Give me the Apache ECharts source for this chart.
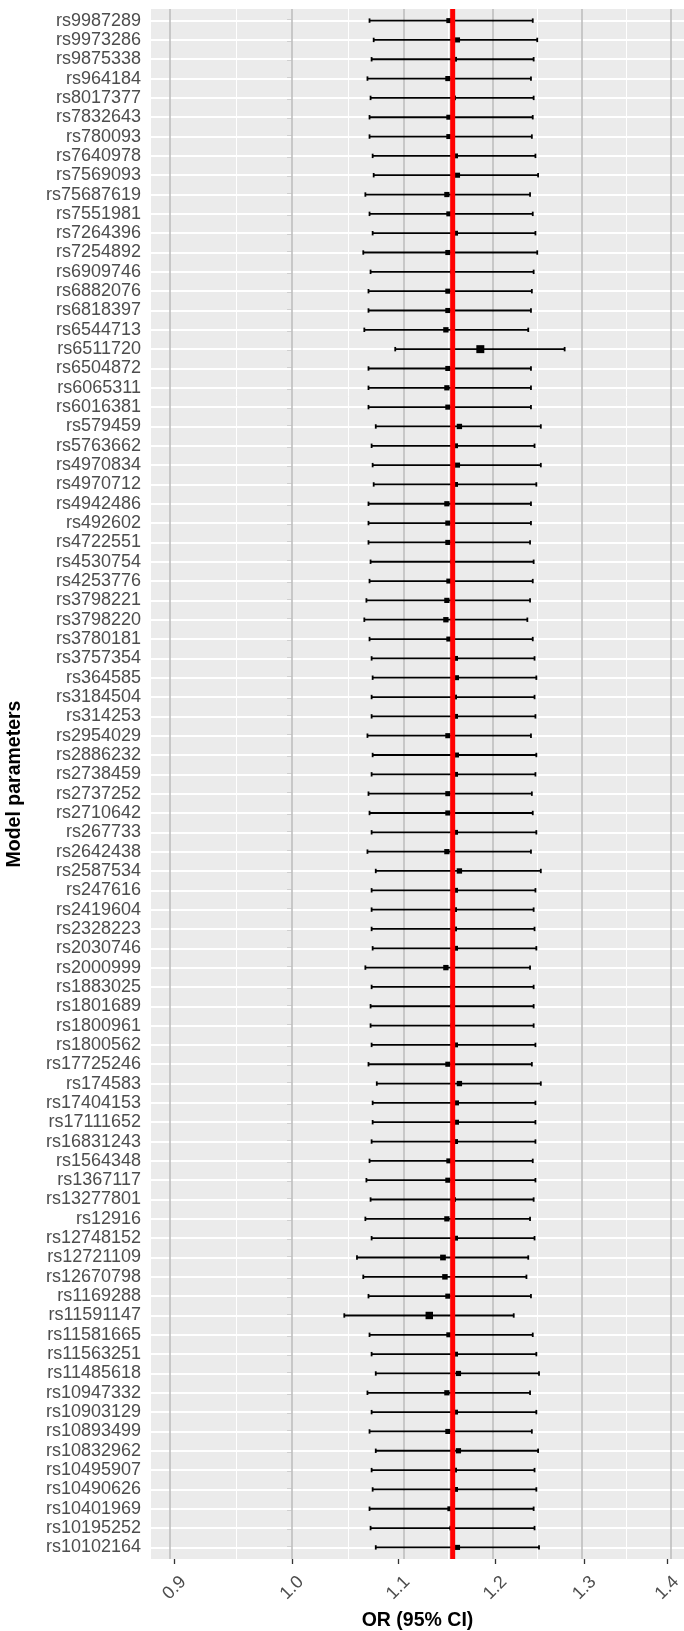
<!DOCTYPE html>
<html>
<head>
<meta charset="utf-8">
<script src="https://cdn.jsdelivr.net/npm/echarts@6/dist/echarts.min.js"></script>
<style>
  html, body { margin: 0; padding: 0; background: #ffffff; }
  #chart { width: 684px; height: 1631px; }
</style>
</head>
<body>
<div id="chart"></div>
<script>
// ---------- data (top row first) ----------
const categories = [
  'rs9987289','rs9973286','rs9875338','rs964184','rs8017377','rs7832643','rs780093','rs7640978',
  'rs7569093','rs75687619','rs7551981','rs7264396','rs7254892','rs6909746','rs6882076','rs6818397',
  'rs6544713','rs6511720','rs6504872','rs6065311','rs6016381','rs579459','rs5763662','rs4970834',
  'rs4970712','rs4942486','rs492602','rs4722551','rs4530754','rs4253776','rs3798221','rs3798220',
  'rs3780181','rs3757354','rs364585','rs3184504','rs314253','rs2954029','rs2886232','rs2738459',
  'rs2737252','rs2710642','rs267733','rs2642438','rs2587534','rs247616','rs2419604','rs2328223',
  'rs2030746','rs2000999','rs1883025','rs1801689','rs1800961','rs1800562','rs17725246','rs174583',
  'rs17404153','rs17111652','rs16831243','rs1564348','rs1367117','rs13277801','rs12916','rs12748152',
  'rs12721109','rs12670798','rs1169288','rs11591147','rs11581665','rs11563251','rs11485618','rs10947332',
  'rs10903129','rs10893499','rs10832962','rs10495907','rs10490626','rs10401969','rs10195252','rs10102164'
];
const orValues = [
  1.151,1.160,1.157,1.150,1.156,1.151,1.151,1.158,
  1.160,1.149,1.151,1.158,1.150,1.155,1.150,1.150,
  1.148,1.184,1.150,1.149,1.150,1.162,1.158,1.160,
  1.158,1.149,1.150,1.150,1.155,1.151,1.149,1.148,
  1.151,1.158,1.159,1.157,1.158,1.150,1.159,1.158,
  1.150,1.150,1.158,1.149,1.162,1.158,1.157,1.157,
  1.158,1.148,1.155,1.155,1.155,1.158,1.150,1.162,
  1.159,1.159,1.158,1.151,1.150,1.156,1.149,1.158,
  1.145,1.147,1.150,1.131,1.151,1.158,1.161,1.149,
  1.158,1.150,1.161,1.157,1.158,1.152,1.154,1.160
];
const lowerCI = [
  1.072,1.076,1.074,1.070,1.073,1.072,1.072,1.075,
  1.076,1.068,1.072,1.075,1.066,1.073,1.071,1.071,
  1.067,1.097,1.071,1.071,1.071,1.078,1.074,1.075,
  1.076,1.071,1.071,1.071,1.073,1.072,1.069,1.067,
  1.072,1.074,1.075,1.074,1.074,1.070,1.075,1.074,
  1.071,1.072,1.074,1.070,1.078,1.074,1.074,1.074,
  1.075,1.068,1.074,1.073,1.073,1.074,1.071,1.079,
  1.075,1.075,1.074,1.072,1.069,1.073,1.068,1.074,
  1.060,1.066,1.071,1.048,1.072,1.074,1.078,1.070,
  1.074,1.072,1.078,1.074,1.075,1.072,1.073,1.078
];
const upperCI = [
  1.241,1.246,1.242,1.239,1.242,1.241,1.240,1.244,
  1.247,1.238,1.241,1.244,1.246,1.242,1.240,1.239,
  1.236,1.277,1.239,1.239,1.239,1.250,1.243,1.250,
  1.245,1.239,1.239,1.238,1.242,1.241,1.238,1.235,
  1.241,1.243,1.245,1.243,1.244,1.239,1.245,1.244,
  1.240,1.241,1.245,1.239,1.250,1.244,1.242,1.243,
  1.245,1.238,1.242,1.242,1.242,1.244,1.240,1.250,
  1.244,1.244,1.244,1.241,1.244,1.242,1.238,1.243,
  1.236,1.234,1.239,1.220,1.241,1.245,1.248,1.238,
  1.245,1.240,1.247,1.243,1.245,1.242,1.243,1.248
];
const overallOR = 1.155;
const xTickValues = [0.9, 1.0, 1.1, 1.2, 1.3, 1.4];
const xRange = [0.8812, 1.4213];

// ---------- build ----------
const FONT = '"Liberation Sans", Arial, Helvetica, sans-serif';
const N = categories.length;
const rowPos = categories.map((_, i) => i + 1);
const lnTicks = xTickValues.map(v => Math.log(v));
const lnMinor = xTickValues.slice(1).map((v, i) => Math.log(Math.sqrt(v * xTickValues[i])));
const lnOverall = Math.log(overallOR);

const forestData = categories.map((c, i) => [
  Math.log(lowerCI[i]), Math.log(orValues[i]), Math.log(upperCI[i]), i + 1
]);

function renderForest(params, api) {
  const y = api.value(3);
  const lo = api.coord([api.value(0), y]);
  const est = api.coord([api.value(1), y]);
  const hi = api.coord([api.value(2), y]);
  const s = 4.5 + 140 * Math.abs(api.value(1) - lnOverall);
  const capH = 2.2;
  const stroke = { stroke: '#000000', lineWidth: 1.8 };
  return {
    type: 'group',
    children: [
      { type: 'line', shape: { x1: lo[0], y1: lo[1], x2: hi[0], y2: hi[1] }, style: stroke },
      { type: 'line', shape: { x1: lo[0], y1: lo[1] - capH, x2: lo[0], y2: lo[1] + capH }, style: stroke },
      { type: 'line', shape: { x1: hi[0], y1: hi[1] - capH, x2: hi[0], y2: hi[1] + capH }, style: stroke },
      { type: 'rect', shape: { x: est[0] - s / 2, y: est[1] - s / 2, width: s, height: s }, style: { fill: '#000000' } }
    ]
  };
}

const chart = echarts.init(document.getElementById('chart'), null, { renderer: 'canvas' });
chart.setOption({
  animation: false,
  backgroundColor: '#ffffff',
  grid: {
    left: 151, right: 0, top: 9, bottom: 72,
    containLabel: false, outerBoundsMode: 'none',
    show: true, backgroundColor: '#EBEBEB', borderWidth: 0
  },
  xAxis: {
    type: 'value',
    min: Math.log(xRange[0]), max: Math.log(xRange[1]),
    axisLine: { show: false },
    axisTick: { show: true, length: 5, customValues: lnTicks, lineStyle: { color: '#333333', width: 1.3 } },
    axisLabel: {
      customValues: lnTicks,
      formatter: v => Math.exp(v).toFixed(1),
      rotate: 45, align: 'center', verticalAlign: 'middle', margin: 29,
      color: '#4D4D4D', fontSize: 18, fontFamily: FONT
    },
    splitLine: { show: false },
    name: 'OR (95% CI)', nameLocation: 'middle', nameGap: 59,
    nameTextStyle: { color: '#000000', fontSize: 19.5, fontWeight: 'bold', fontFamily: FONT,
                     align: 'center', verticalAlign: 'middle' }
  },
  yAxis: {
    type: 'value', inverse: true, min: 0.4, max: N + 0.6,
    axisLine: { show: false },
    axisTick: { show: true, length: 5, customValues: rowPos, lineStyle: { color: '#333333', width: 1.3 } },
    axisLabel: {
      customValues: rowPos,
      formatter: v => categories[Math.round(v) - 1],
      color: '#4D4D4D', fontSize: 18, fontFamily: FONT, margin: 10
    },
    splitLine: { show: false },
    name: 'Model parameters', nameLocation: 'middle', nameGap: 136, nameRotate: 90,
    nameTextStyle: { color: '#000000', fontSize: 19.5, fontWeight: 'bold', fontFamily: FONT,
                     align: 'center', verticalAlign: 'middle' }
  },
  series: [
    {
      type: 'line', data: [], z: 1, silent: true,
      markLine: {
        z: 1, silent: true, symbol: ['none', 'none'], label: { show: false }, animation: false,
        data: [
          ...lnMinor.map(v => ({ xAxis: v, lineStyle: { color: '#FFFFFF', width: 1, type: 'solid' } })),
          ...rowPos.map(v => ({ yAxis: v, lineStyle: { color: '#FFFFFF', width: 2, type: 'solid' } })),
          ...lnTicks.map(v => ({ xAxis: v, lineStyle: { color: '#BEBEBE', width: 1.6, type: 'solid' } }))
        ]
      }
    },
    {
      type: 'custom', z: 3, silent: true,
      renderItem: renderForest,
      encode: { x: [0, 1, 2], y: 3 },
      data: forestData
    },
    {
      type: 'line', z: 4, silent: true, showSymbol: false, symbol: 'none',
      lineStyle: { color: '#FF0000', width: 5 },
      data: [[lnOverall, 0.4], [lnOverall, N + 0.6]]
    }
  ]
});
</script>
</body>
</html>
